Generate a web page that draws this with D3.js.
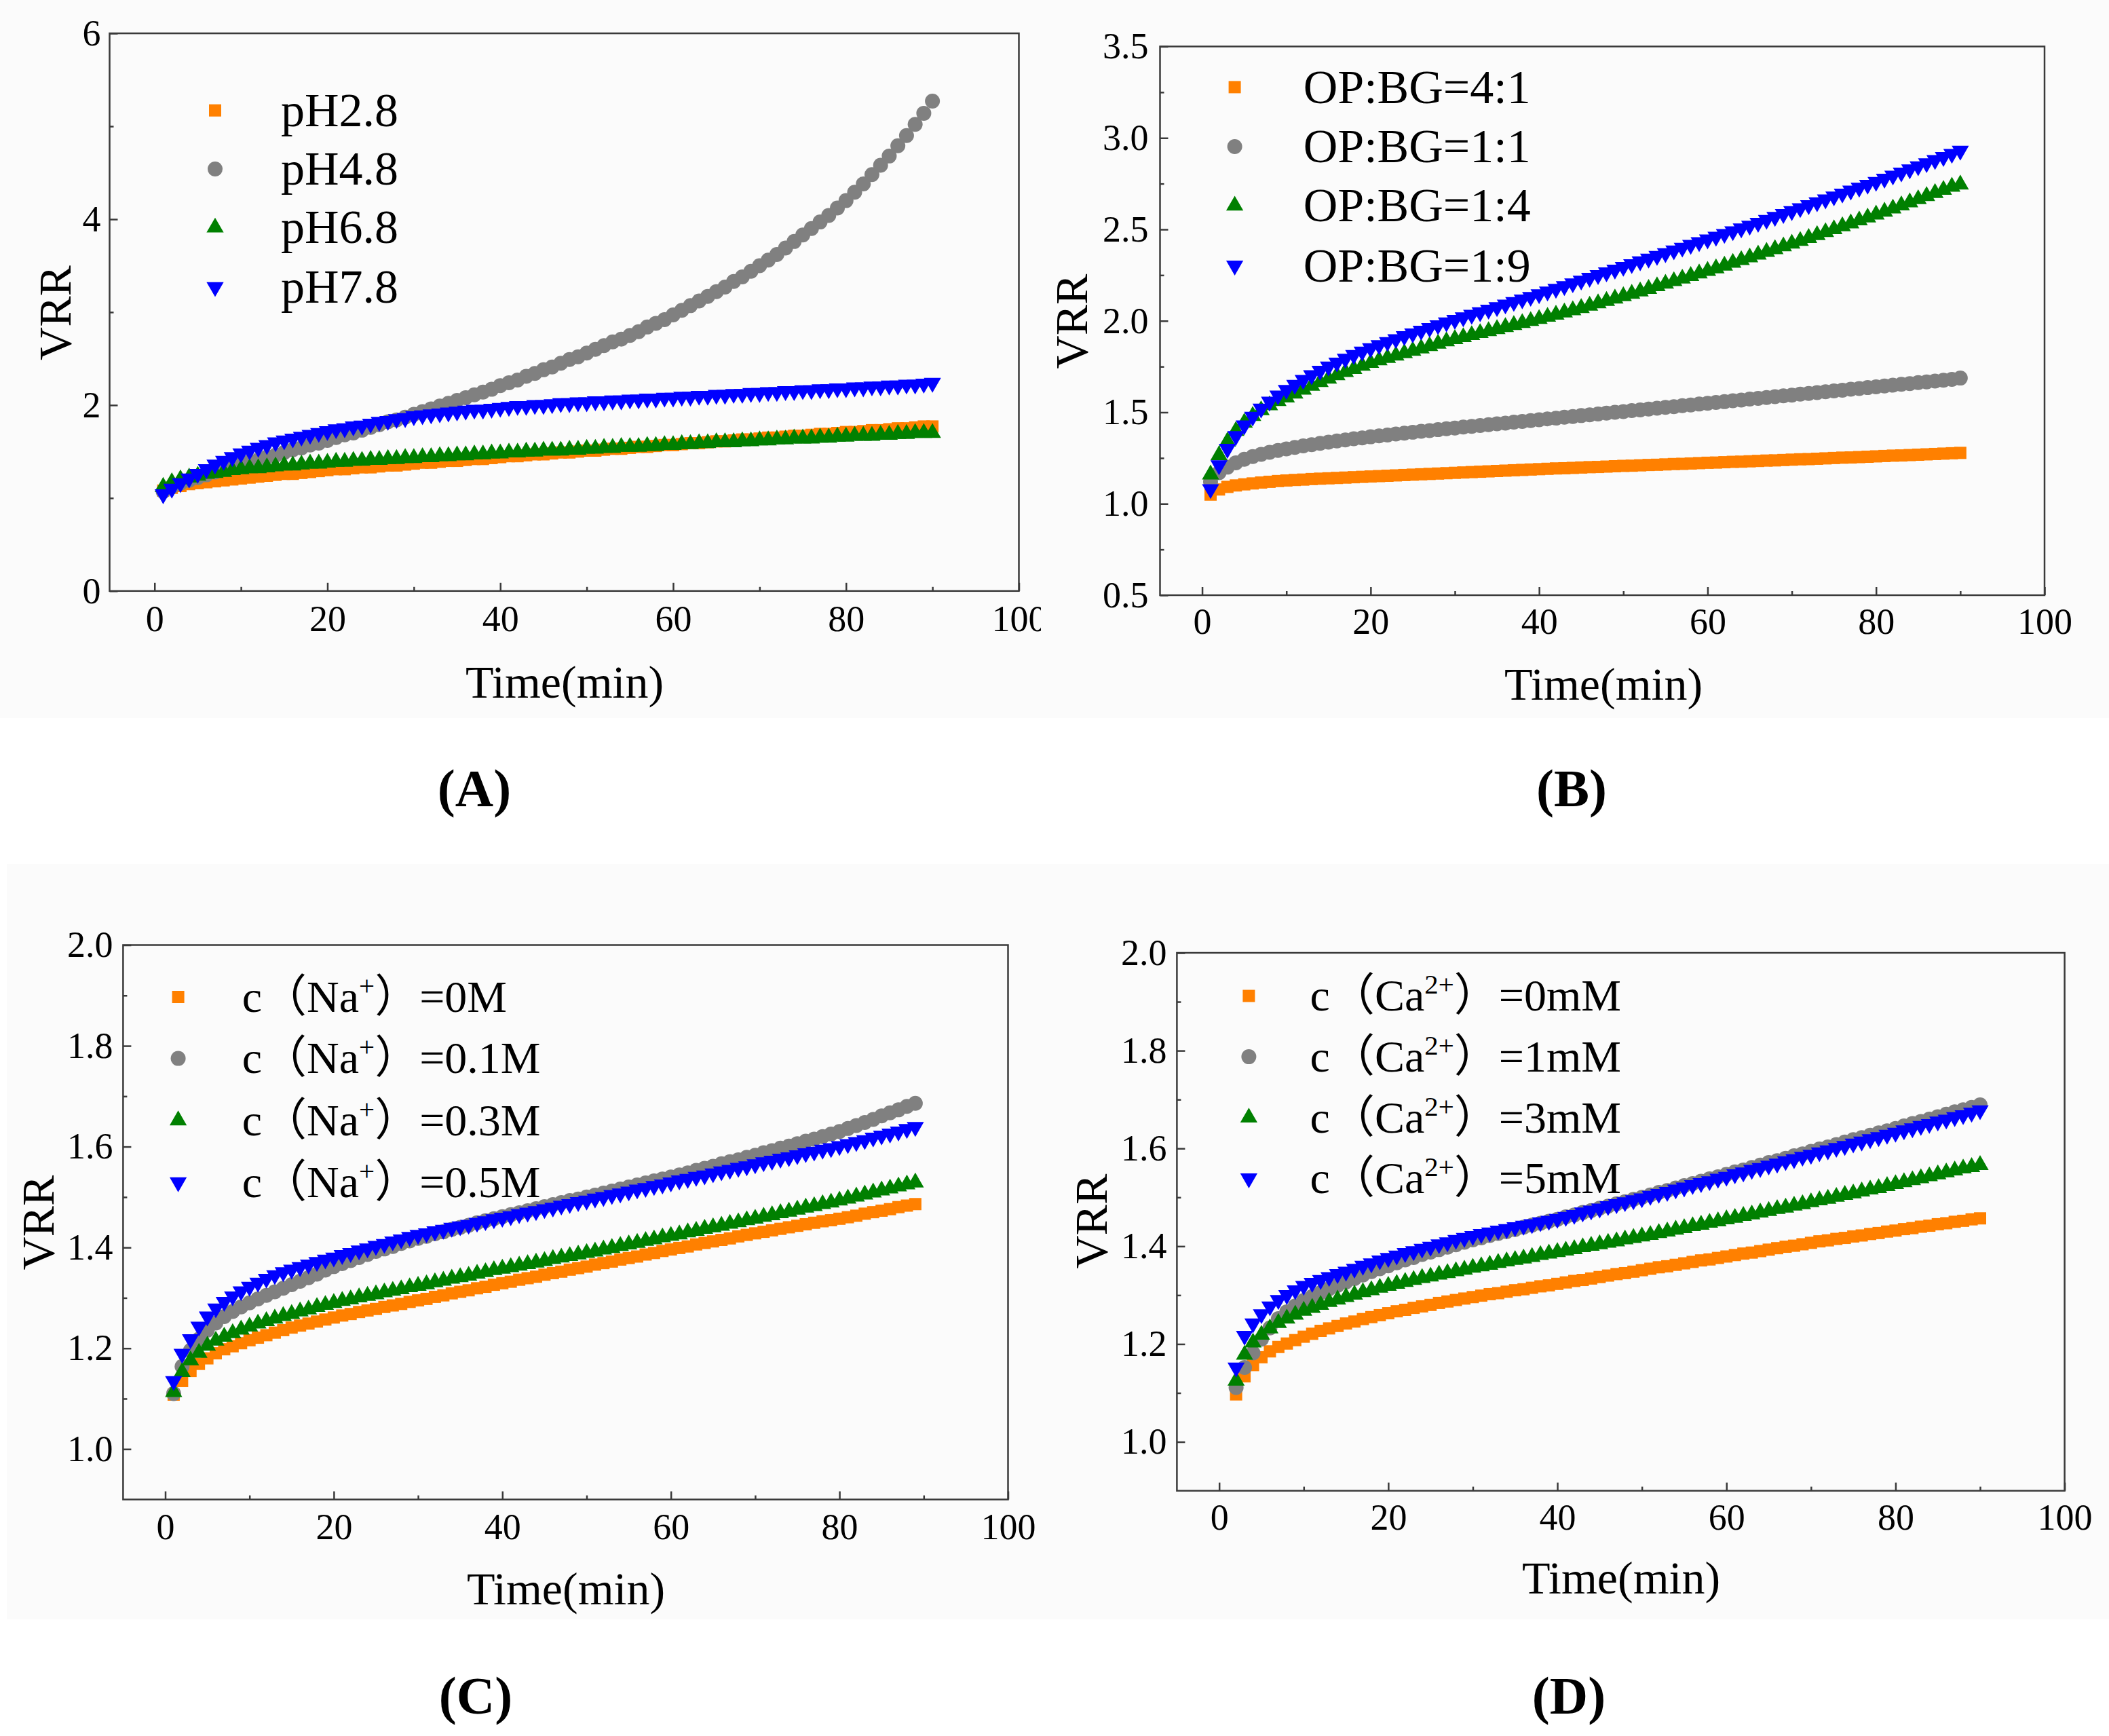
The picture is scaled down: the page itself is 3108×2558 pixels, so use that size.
<!DOCTYPE html>
<html><head><meta charset="utf-8">
<script src="https://cdn.jsdelivr.net/npm/d3@7"></script>
<style>html,body{margin:0;padding:0;background:#fff}svg{display:block}</style>
</head><body>
<svg id="chart" width="3108" height="2558"></svg>
<script>
// ---------------- DATA ----------------
const xTicksMajor = [0, 20, 40, 60, 80, 100];
const xTicksMinor = [10, 30, 50, 70, 90];

// Panel A : pH (t = 1..90 min)
const startA = 1;
const labelsA = ["pH2.8", "pH4.8", "pH6.8", "pH7.8"];
const yTicksA = [0, 2, 4, 6];
const yMinorA = [1, 3, 5];
const pH28 = [1.08,1.11,1.13,1.15,1.16,1.17,1.18,1.19,1.20,1.21,
1.22,1.23,1.24,1.25,1.26,1.26,1.27,1.28,1.29,1.30,
1.31,1.31,1.32,1.33,1.33,1.34,1.35,1.35,1.36,1.37,
1.38,1.38,1.39,1.40,1.40,1.41,1.42,1.42,1.43,1.44,
1.45,1.45,1.46,1.47,1.47,1.48,1.49,1.49,1.50,1.51,
1.51,1.52,1.53,1.53,1.54,1.55,1.55,1.56,1.57,1.57,
1.58,1.59,1.59,1.60,1.61,1.61,1.62,1.63,1.63,1.64,
1.65,1.65,1.66,1.67,1.67,1.68,1.69,1.69,1.70,1.71,
1.71,1.72,1.73,1.73,1.74,1.75,1.75,1.76,1.77,1.77];
const pH48 = [1.07,1.12,1.16,1.19,1.22,1.25,1.28,1.31,1.33,1.36,
1.39,1.41,1.44,1.46,1.49,1.52,1.54,1.57,1.59,1.62,
1.65,1.68,1.70,1.73,1.76,1.79,1.82,1.84,1.87,1.90,
1.93,1.96,1.99,2.02,2.05,2.08,2.11,2.14,2.17,2.21,
2.24,2.27,2.31,2.34,2.38,2.41,2.45,2.49,2.52,2.56,
2.60,2.64,2.68,2.71,2.75,2.79,2.84,2.88,2.92,2.97,
3.02,3.07,3.12,3.17,3.22,3.27,3.33,3.38,3.44,3.50,
3.56,3.62,3.69,3.76,3.83,3.90,3.97,4.04,4.12,4.20,
4.29,4.38,4.48,4.58,4.68,4.79,4.90,5.02,5.14,5.27];
const pH68 = [1.12,1.17,1.20,1.22,1.24,1.26,1.27,1.28,1.30,1.31,
1.32,1.32,1.33,1.34,1.35,1.35,1.36,1.37,1.37,1.38,
1.39,1.39,1.40,1.40,1.41,1.41,1.42,1.42,1.43,1.43,
1.44,1.44,1.45,1.45,1.46,1.46,1.47,1.47,1.48,1.48,
1.49,1.49,1.50,1.50,1.51,1.51,1.51,1.52,1.52,1.53,
1.53,1.54,1.54,1.55,1.55,1.55,1.56,1.56,1.57,1.57,
1.58,1.58,1.59,1.59,1.60,1.60,1.60,1.61,1.61,1.62,
1.62,1.63,1.63,1.64,1.64,1.64,1.65,1.65,1.66,1.66,
1.67,1.67,1.67,1.68,1.68,1.69,1.69,1.70,1.70,1.70];
const pH78 = [1.04,1.10,1.16,1.21,1.26,1.31,1.36,1.40,1.44,1.48,
1.51,1.54,1.57,1.60,1.62,1.64,1.66,1.68,1.70,1.72,
1.74,1.75,1.77,1.78,1.80,1.82,1.83,1.85,1.86,1.88,
1.89,1.90,1.91,1.92,1.93,1.94,1.95,1.95,1.96,1.97,
1.98,1.99,1.99,2.00,2.00,2.01,2.02,2.02,2.03,2.03,
2.04,2.04,2.05,2.05,2.06,2.06,2.07,2.07,2.08,2.08,
2.09,2.09,2.10,2.10,2.11,2.11,2.12,2.12,2.13,2.13,
2.14,2.14,2.15,2.15,2.16,2.16,2.17,2.17,2.18,2.18,
2.19,2.19,2.20,2.20,2.21,2.21,2.22,2.22,2.23,2.24];

// Panel B : OP:BG ratio (t = 1..90 min)
const startB = 1;
const labelsB = ["OP:BG=4:1", "OP:BG=1:1", "OP:BG=1:4", "OP:BG=1:9"];
const yTicksB = [0.5, 1.0, 1.5, 2.0, 2.5, 3.0, 3.5];
const yMinorB = [0.75, 1.25, 1.75, 2.25, 2.75, 3.25];
const ratio41 = [1.050,1.078,1.092,1.100,1.106,1.111,1.116,1.120,1.124,1.127,
1.130,1.132,1.135,1.137,1.139,1.141,1.143,1.145,1.147,1.149,
1.151,1.153,1.155,1.157,1.159,1.161,1.163,1.165,1.167,1.169,
1.171,1.173,1.175,1.177,1.179,1.181,1.183,1.185,1.187,1.189,
1.191,1.193,1.194,1.196,1.198,1.200,1.201,1.203,1.205,1.207,
1.208,1.210,1.212,1.213,1.215,1.217,1.218,1.220,1.222,1.224,
1.225,1.227,1.229,1.230,1.232,1.234,1.236,1.237,1.239,1.241,
1.243,1.244,1.246,1.248,1.250,1.252,1.253,1.255,1.257,1.259,
1.261,1.263,1.264,1.266,1.268,1.270,1.272,1.274,1.276,1.278];
const ratio11 = [1.120,1.170,1.200,1.224,1.243,1.258,1.270,1.281,1.291,1.300,
1.308,1.316,1.323,1.330,1.337,1.343,1.349,1.355,1.360,1.366,
1.371,1.376,1.381,1.386,1.391,1.396,1.400,1.405,1.410,1.414,
1.419,1.423,1.428,1.432,1.437,1.441,1.446,1.450,1.455,1.459,
1.464,1.468,1.473,1.477,1.482,1.486,1.491,1.495,1.500,1.504,
1.509,1.513,1.518,1.522,1.527,1.531,1.536,1.540,1.545,1.549,
1.554,1.558,1.563,1.567,1.572,1.576,1.581,1.585,1.590,1.594,
1.599,1.603,1.608,1.612,1.617,1.621,1.626,1.630,1.635,1.639,
1.644,1.648,1.653,1.657,1.662,1.666,1.671,1.675,1.680,1.687];
const ratio14 = [1.160,1.265,1.340,1.398,1.443,1.480,1.511,1.538,1.561,1.581,
1.602,1.624,1.645,1.665,1.684,1.702,1.720,1.737,1.754,1.770,
1.784,1.797,1.810,1.823,1.836,1.849,1.862,1.875,1.888,1.900,
1.911,1.922,1.933,1.944,1.955,1.966,1.977,1.988,1.999,2.010,
2.022,2.034,2.046,2.058,2.070,2.083,2.096,2.109,2.122,2.135,
2.148,2.161,2.175,2.189,2.203,2.217,2.231,2.245,2.259,2.273,
2.287,2.302,2.317,2.332,2.347,2.362,2.377,2.392,2.407,2.422,
2.437,2.453,2.469,2.485,2.501,2.517,2.533,2.549,2.565,2.581,
2.597,2.614,2.631,2.648,2.665,2.682,2.699,2.716,2.733,2.745];
const ratio19 = [1.080,1.210,1.300,1.370,1.428,1.476,1.520,1.558,1.592,1.622,
1.650,1.677,1.703,1.727,1.750,1.772,1.793,1.813,1.832,1.850,
1.867,1.884,1.900,1.916,1.931,1.946,1.961,1.976,1.991,2.005,
2.019,2.033,2.047,2.061,2.075,2.089,2.103,2.117,2.131,2.145,
2.160,2.175,2.190,2.205,2.220,2.235,2.250,2.265,2.280,2.295,
2.310,2.325,2.340,2.355,2.370,2.385,2.400,2.415,2.430,2.445,
2.460,2.475,2.490,2.505,2.520,2.536,2.552,2.568,2.584,2.600,
2.616,2.632,2.648,2.664,2.680,2.696,2.712,2.728,2.744,2.760,
2.777,2.794,2.811,2.828,2.845,2.862,2.879,2.896,2.913,2.930];

// Panel C : Na+ (t = 1..89 min)
const startC = 1;
const ionC = "Na", chargeC = "+";
const concC = ["0M", "0.1M", "0.3M", "0.5M"];
const yTicksCD = [1.0, 1.2, 1.4, 1.6, 1.8, 2.0];
const yMinorCD = [1.1, 1.3, 1.5, 1.7, 1.9];
const na0 = [1.108,1.135,1.155,1.169,1.180,1.190,1.198,1.204,1.210,1.216,
1.221,1.226,1.231,1.236,1.241,1.245,1.249,1.253,1.257,1.261,
1.265,1.268,1.272,1.275,1.278,1.282,1.285,1.288,1.292,1.295,
1.298,1.302,1.305,1.309,1.312,1.315,1.319,1.322,1.326,1.329,
1.332,1.336,1.339,1.342,1.346,1.349,1.352,1.356,1.359,1.362,
1.366,1.369,1.372,1.376,1.379,1.382,1.386,1.389,1.393,1.396,
1.399,1.402,1.406,1.409,1.412,1.415,1.418,1.422,1.425,1.428,
1.431,1.434,1.437,1.440,1.443,1.446,1.449,1.452,1.454,1.457,
1.460,1.463,1.467,1.470,1.473,1.476,1.480,1.483,1.486];
const na01 = [1.110,1.164,1.196,1.218,1.236,1.250,1.263,1.273,1.282,1.290,
1.298,1.305,1.312,1.319,1.326,1.333,1.340,1.347,1.355,1.362,
1.368,1.374,1.380,1.386,1.392,1.397,1.402,1.408,1.413,1.418,
1.422,1.427,1.431,1.436,1.440,1.444,1.449,1.453,1.457,1.461,
1.465,1.469,1.473,1.477,1.481,1.485,1.489,1.493,1.496,1.500,
1.504,1.508,1.512,1.516,1.520,1.524,1.528,1.532,1.536,1.540,
1.544,1.548,1.553,1.557,1.561,1.566,1.570,1.574,1.579,1.583,
1.588,1.592,1.597,1.601,1.606,1.611,1.615,1.620,1.625,1.630,
1.636,1.642,1.648,1.654,1.661,1.667,1.673,1.680,1.686];
const na03 = [1.113,1.153,1.176,1.191,1.205,1.215,1.223,1.230,1.237,1.243,
1.249,1.254,1.259,1.264,1.268,1.273,1.277,1.282,1.286,1.290,
1.294,1.297,1.301,1.304,1.307,1.311,1.314,1.317,1.321,1.324,
1.327,1.331,1.334,1.338,1.341,1.344,1.348,1.351,1.355,1.358,
1.361,1.364,1.367,1.370,1.373,1.377,1.380,1.383,1.386,1.389,
1.392,1.396,1.399,1.403,1.406,1.409,1.413,1.416,1.420,1.423,
1.426,1.430,1.433,1.437,1.440,1.443,1.447,1.450,1.454,1.457,
1.461,1.464,1.468,1.471,1.475,1.479,1.482,1.486,1.489,1.493,
1.497,1.501,1.505,1.509,1.513,1.517,1.521,1.525,1.529];
const na05 = [1.135,1.189,1.218,1.243,1.263,1.279,1.292,1.303,1.313,1.322,
1.330,1.338,1.345,1.351,1.356,1.361,1.366,1.371,1.376,1.380,
1.385,1.389,1.394,1.398,1.403,1.407,1.412,1.416,1.421,1.425,
1.428,1.432,1.435,1.439,1.442,1.445,1.449,1.452,1.456,1.459,
1.462,1.466,1.469,1.472,1.476,1.479,1.483,1.486,1.490,1.493,
1.497,1.500,1.504,1.507,1.511,1.515,1.518,1.522,1.525,1.529,
1.533,1.536,1.540,1.543,1.547,1.551,1.554,1.558,1.561,1.565,
1.569,1.572,1.576,1.579,1.583,1.587,1.590,1.594,1.597,1.601,
1.605,1.609,1.613,1.618,1.622,1.626,1.630,1.635,1.639];

// Panel D : Ca2+ (t = 2..90 min)
const startD = 2;
const ionD = "Ca", chargeD = "2+";
const concD = ["0mM", "1mM", "3mM", "5mM"];
const ca0 = [1.097,1.134,1.157,1.173,1.185,1.194,1.201,1.208,1.215,
1.221,1.227,1.232,1.237,1.242,1.246,1.251,1.255,1.259,1.263,
1.267,1.270,1.274,1.277,1.280,1.284,1.287,1.290,1.293,1.296,
1.299,1.302,1.304,1.307,1.310,1.312,1.315,1.318,1.320,1.323,
1.326,1.329,1.331,1.334,1.337,1.340,1.343,1.345,1.348,1.351,
1.354,1.357,1.359,1.362,1.365,1.368,1.371,1.373,1.376,1.379,
1.382,1.385,1.387,1.390,1.393,1.396,1.399,1.401,1.404,1.407,
1.410,1.412,1.415,1.417,1.420,1.422,1.425,1.427,1.430,1.432,
1.435,1.437,1.440,1.442,1.445,1.447,1.450,1.452,1.455,1.457];
const ca1 = [1.111,1.152,1.182,1.210,1.233,1.252,1.266,1.278,1.289,
1.297,1.305,1.313,1.320,1.327,1.334,1.341,1.348,1.354,1.360,
1.366,1.372,1.377,1.383,1.388,1.393,1.398,1.403,1.408,1.413,
1.417,1.422,1.426,1.430,1.434,1.439,1.443,1.447,1.451,1.455,
1.460,1.464,1.469,1.473,1.478,1.482,1.487,1.491,1.496,1.500,
1.505,1.510,1.514,1.519,1.524,1.528,1.533,1.538,1.542,1.547,
1.552,1.556,1.561,1.566,1.571,1.575,1.580,1.585,1.589,1.594,
1.599,1.603,1.608,1.613,1.618,1.622,1.627,1.632,1.636,1.641,
1.646,1.651,1.655,1.660,1.665,1.670,1.675,1.679,1.684,1.689];
const ca3 = [1.125,1.178,1.203,1.219,1.232,1.243,1.252,1.260,1.268,
1.274,1.280,1.286,1.291,1.296,1.301,1.306,1.310,1.315,1.319,
1.323,1.327,1.331,1.335,1.338,1.342,1.345,1.349,1.352,1.356,
1.359,1.362,1.366,1.369,1.372,1.375,1.378,1.382,1.385,1.388,
1.391,1.394,1.398,1.401,1.404,1.407,1.410,1.414,1.417,1.420,
1.423,1.427,1.430,1.434,1.437,1.441,1.444,1.448,1.451,1.455,
1.458,1.462,1.465,1.469,1.472,1.476,1.479,1.483,1.486,1.490,
1.494,1.497,1.501,1.505,1.508,1.512,1.516,1.519,1.523,1.527,
1.531,1.535,1.539,1.543,1.547,1.551,1.555,1.559,1.562,1.566];
const ca5 = [1.152,1.217,1.242,1.261,1.277,1.290,1.300,1.310,1.319,
1.325,1.331,1.337,1.343,1.348,1.354,1.360,1.365,1.371,1.376,
1.381,1.386,1.390,1.395,1.399,1.404,1.408,1.413,1.417,1.421,
1.425,1.428,1.432,1.435,1.439,1.442,1.445,1.449,1.452,1.456,
1.460,1.464,1.469,1.473,1.477,1.482,1.486,1.490,1.494,1.498,
1.503,1.507,1.511,1.516,1.520,1.525,1.529,1.533,1.538,1.542,
1.547,1.551,1.556,1.560,1.565,1.569,1.574,1.578,1.583,1.587,
1.592,1.596,1.601,1.605,1.610,1.614,1.619,1.623,1.628,1.632,
1.637,1.641,1.646,1.650,1.655,1.659,1.664,1.668,1.673,1.678];

// ---------------- STYLE ----------------
const FONT = '"Liberation Serif","Times New Roman","Noto Sans CJK SC",serif';
const seriesColors = ["#ff8000", "#808080", "#008000", "#0000ff"];
const seriesSymbols = [d3.symbolSquare, d3.symbolCircle, d3.symbolTriangle, d3.symbolTriangle];
const seriesSizes = [324, 380, 277, 277];
const seriesRotate = [0, 0, 0, 180];
const AXIS = "#3a3a3a";

const svg = d3.select("#chart");
svg.append("rect").attr("x",0).attr("y",0).attr("width",3108).attr("height",1058).attr("fill","#fbfbfb");
svg.append("rect").attr("x",10).attr("y",1273).attr("width",3098).attr("height",1113).attr("fill","#fbfbfb");

const defs = svg.append("defs");
defs.append("clipPath").attr("id","clipA").append("rect")
  .attr("x",0).attr("y",0).attr("width",1534).attr("height",1060);

const panels = [
  { series:[pH28,pH48,pH68,pH78], start:startA, labels:labelsA, xDomain:[-5.2,100], yDomain:[0,6], yTicks:yTicksA, yMinor:yMinorA, fmt:d3.format("d"),
    box:{x0:161.5,x1:1501.5,y0:49.1,y1:870.8}, xPad:21, yPad:13, legend:{mx:317,tx:414,ys:[162.7,249,335.3,423],fs:70},
    vrr:{x:104,y:461}, title:{x:832,y:1028}, tag:{text:"(A)",x:699,y:1188}, clip:"clipA" },
  { series:[ratio41,ratio11,ratio14,ratio19], start:startB, labels:labelsB, xDomain:[-5,100], yDomain:[0.5,3.5], yTicks:yTicksB, yMinor:yMinorB, fmt:d3.format(".1f"),
    box:{x0:1709.5,x1:3013,y0:68.5,y1:877}, xPad:19, yPad:17, legend:{mx:1819.6,tx:1920.7,ys:[128.4,216,303,391.4],fs:70},
    vrr:{x:1602,y:473.5}, title:{x:2363,y:1031}, tag:{text:"(B)",x:2316,y:1188} },
  { series:[na0,na01,na03,na05], start:startC, ion:ionC, charge:chargeC, conc:concC, xDomain:[-5,100], yDomain:[0.9,2.0], yTicks:yTicksCD, yMinor:yMinorCD, fmt:d3.format(".1f"),
    box:{x0:181.4,x1:1485.5,y0:1392.5,y1:2209.5}, xPad:20, yPad:15, legend:{mx:262.6,tx:356.8,ys:[1469,1559.6,1650.9,1742.1],fs:66},
    vrr:{x:79,y:1801.6}, title:{x:834,y:2364}, tag:{text:"(C)",x:701,y:2525} },
  { series:[ca0,ca1,ca3,ca5], start:startD, ion:ionD, charge:chargeD, conc:concD, xDomain:[-5,100], yDomain:[0.9,2.0], yTicks:yTicksCD, yMinor:yMinorCD, fmt:d3.format(".1f"),
    box:{x0:1734.4,x1:3042.6,y0:1404,y1:2196.6}, xPad:19, yPad:15, legend:{mx:1840.4,tx:1930.6,ys:[1467.5,1557.1,1646.8,1736.4],fs:66},
    vrr:{x:1631,y:1799.6}, title:{x:2389,y:2348}, tag:{text:"(D)",x:2312,y:2525} }
];

function styleAxis(g){
  g.select(".domain").remove();
  g.selectAll(".tick line").attr("stroke",AXIS).attr("stroke-width",2.5);
  g.selectAll(".tick text").attr("font-family",FONT).attr("font-size",54).attr("fill","#000");
}

panels.forEach(p => {
  const g = svg.append("g");
  if (p.clip) g.attr("clip-path", `url(#${p.clip})`);
  const b = p.box;
  const x = d3.scaleLinear().domain(p.xDomain).range([b.x0,b.x1]);
  const y = d3.scaleLinear().domain(p.yDomain).range([b.y1,b.y0]);

  // axes
  g.append("g").attr("transform",`translate(0,${b.y1})`)
    .call(d3.axisBottom(x).tickValues(xTicksMajor).tickSize(-12).tickPadding(p.xPad).tickFormat(d3.format("d")))
    .call(styleAxis);
  g.append("g").attr("transform",`translate(0,${b.y1})`)
    .call(d3.axisBottom(x).tickValues(xTicksMinor).tickSize(-6).tickFormat(""))
    .call(styleAxis);
  g.append("g").attr("transform",`translate(${b.x0},0)`)
    .call(d3.axisLeft(y).tickValues(p.yTicks).tickSize(-12).tickPadding(p.yPad).tickFormat(p.fmt))
    .call(styleAxis);
  g.append("g").attr("transform",`translate(${b.x0},0)`)
    .call(d3.axisLeft(y).tickValues(p.yMinor).tickSize(-6).tickFormat(""))
    .call(styleAxis);

  // data
  p.series.forEach((vals, si) => {
    const sym = d3.symbol().type(seriesSymbols[si]).size(seriesSizes[si]);
    g.append("g").selectAll("path").data(vals).join("path")
      .attr("d", sym)
      .attr("transform", (v,i) => `translate(${x(p.start+i)},${y(v)}) rotate(${seriesRotate[si]})`)
      .attr("fill", seriesColors[si]);
  });

  // frame
  g.append("rect").attr("x",b.x0).attr("y",b.y0).attr("width",b.x1-b.x0).attr("height",b.y1-b.y0)
    .attr("fill","none").attr("stroke",AXIS).attr("stroke-width",2.5);

  // legend
  const L = p.legend;
  L.ys.forEach((ly, si) => {
    const sym = d3.symbol().type(seriesSymbols[si]).size(seriesSizes[si]);
    g.append("path").attr("d",sym).attr("transform",`translate(${L.mx},${ly}) rotate(${seriesRotate[si]})`).attr("fill",seriesColors[si]);
    const t = g.append("text").attr("x",L.tx).attr("y",ly+0.33*L.fs)
      .attr("font-family",FONT).attr("font-size",L.fs).attr("fill","#000");
    if (p.labels) {
      t.text(p.labels[si]);
    } else {
      t.append("tspan").text("c（" + p.ion);
      t.append("tspan").attr("font-size",L.fs*0.62).attr("dy",-0.38*L.fs).text(p.charge);
      t.append("tspan").attr("dy",0.38*L.fs).text("）=" + p.conc[si]);
    }
  });

  // axis titles
  g.append("text").attr("transform",`translate(${p.vrr.x},${p.vrr.y}) rotate(-90)`)
    .attr("text-anchor","middle").attr("font-family",FONT).attr("font-size",68).attr("fill","#000").text("VRR");
  g.append("text").attr("x",p.title.x).attr("y",p.title.y)
    .attr("text-anchor","middle").attr("font-family",FONT).attr("font-size",68).attr("fill","#000").text("Time(min)");

  // panel tag
  svg.append("text").attr("x",p.tag.x).attr("y",p.tag.y)
    .attr("text-anchor","middle").attr("font-family",FONT).attr("font-weight","bold").attr("font-size",78).attr("fill","#000").text(p.tag.text);
});
</script>
</body></html>
